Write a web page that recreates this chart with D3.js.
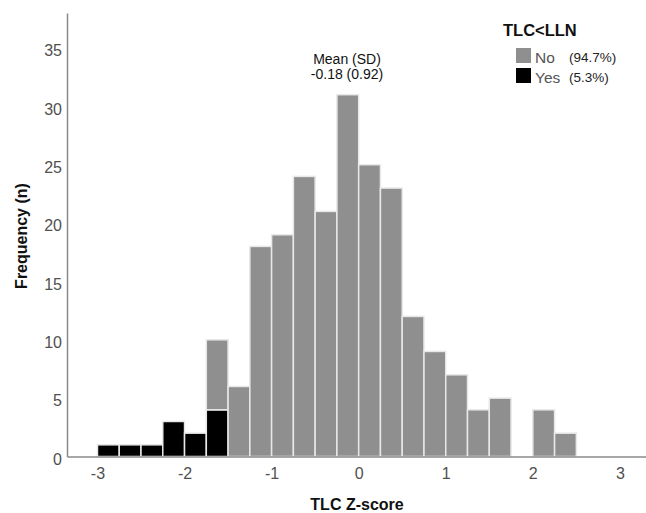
<!DOCTYPE html>
<html>
<head>
<meta charset="utf-8">
<script src="https://cdn.jsdelivr.net/npm/d3@7"></script>
<style>
  body { margin: 0; background: #fff; }
  text { font-family: "Liberation Sans", Arial, sans-serif; }
  .tick text { fill: #505050; font-size: 16px; }
  .axisTitle { font-weight: bold; font-size: 16px; fill: #111; }
</style>
</head>
<body>
<div id="chart"></div>
<script>
var svgWidth = 646;
var svgHeight = 513;

// Histogram bins (width 0.25), lower edges
var binStarts = [-3, -2.75, -2.5, -2.25, -2, -1.75, -1.5, -1.25, -1, -0.75, -0.5, -0.25,
                 0, 0.25, 0.5, 0.75, 1, 1.25, 1.5, 1.75, 2, 2.25];
var yesCounts = [1, 1, 1, 3, 2, 4, 0, 0, 0, 0, 0, 0, 0, 0, 0, 0, 0, 0, 0, 0, 0, 0];
var noCounts  = [0, 0, 0, 0, 0, 6, 6, 18, 19, 24, 21, 31, 25, 23, 12, 9, 7, 4, 5, 0, 4, 2];
var binWidth = 0.25;

var xTicks = [-3, -2, -1, 0, 1, 2, 3];
var yTicks = [0, 5, 10, 15, 20, 25, 30, 35];

var groups = ["Yes", "No"];
var groupColors = { "No": "#8f8f8f", "Yes": "#000000" };
var groupPct = { "No": "(94.7%)", "Yes": "(5.3%)" };

var svg = d3.select("#chart")
    .append("svg")
    .attr("width", svgWidth)
    .attr("height", svgHeight);

var x = d3.scaleLinear()
    .domain([-3.35, 3.3])
    .range([67, 646]);

var y = d3.scaleLinear()
    .domain([0, 38])
    .range([456.5, 13]);

// Build table for stacking
var table = binStarts.map(function(b, i) {
    return { x0: b, Yes: yesCounts[i], No: noCounts[i] };
});
var stacked = d3.stack().keys(groups)(table);

// Bars
svg.append("g")
    .selectAll("g")
    .data(stacked)
    .enter()
    .append("g")
    .attr("fill", d => groupColors[d.key])
    .selectAll("rect")
    .data(d => d.filter(s => s[1] > s[0]))
    .enter()
    .append("rect")
    .attr("x", d => x(d.data.x0))
    .attr("width", d => x(d.data.x0 + binWidth) - x(d.data.x0))
    .attr("y", d => y(d[1]))
    .attr("height", d => y(d[0]) - y(d[1]))
    .attr("stroke", "#e8e8e8")
    .attr("stroke-width", 1.5);

// Axes (plain hyphen for negatives, as in the original)
var bottomAxis = d3.axisBottom(x).tickValues(xTicks).tickFormat(d => String(d)).tickSize(0).tickPadding(11);
var leftAxis = d3.axisLeft(y).tickValues(yTicks).tickFormat(d => String(d)).tickSize(0).tickPadding(5);

var xAxisG = svg.append("g")
    .attr("transform", `translate(0, ${y(0)})`)
    .call(bottomAxis);
xAxisG.select(".domain").attr("stroke", "#8a8a8a").attr("stroke-width", 1.5);

var yAxisG = svg.append("g")
    .attr("transform", `translate(${x.range()[0]}, 0)`)
    .call(leftAxis);
yAxisG.select(".domain").attr("stroke", "#8a8a8a").attr("stroke-width", 1.5);
yAxisG.selectAll(".tick text").attr("dy", "0.48em");

svg.selectAll(".tick text").attr("font-family", null).attr("font-size", null);

// Axis titles
svg.append("text")
    .attr("class", "axisTitle")
    .attr("text-anchor", "middle")
    .attr("transform", "translate(27, 236) rotate(-90)")
    .text("Frequency (n)");

svg.append("text")
    .attr("class", "axisTitle")
    .attr("text-anchor", "middle")
    .attr("x", 357)
    .attr("y", 510)
    .text("TLC Z-score");

// Mean annotation
svg.append("text")
    .attr("text-anchor", "middle")
    .attr("x", 347)
    .attr("y", 64)
    .attr("font-size", 14)
    .attr("fill", "#111")
    .text("Mean (SD)");
svg.append("text")
    .attr("text-anchor", "middle")
    .attr("x", 347)
    .attr("y", 79)
    .attr("font-size", 14)
    .attr("fill", "#111")
    .text("-0.18 (0.92)");

// Legend
svg.append("text")
    .attr("x", 503)
    .attr("y", 36)
    .attr("font-size", 16.5)
    .attr("font-weight", "bold")
    .attr("fill", "#111")
    .text("TLC<LLN");

var legend = svg.append("g")
    .selectAll("g")
    .data(["No", "Yes"])
    .enter()
    .append("g")
    .attr("transform", (d, i) => `translate(516, ${48 + i * 20})`);

legend.append("rect")
    .attr("width", 15)
    .attr("height", 15)
    .attr("fill", d => groupColors[d]);

legend.append("text")
    .attr("x", 19)
    .attr("y", 15)
    .attr("font-size", 15.5)
    .attr("fill", "#555")
    .text(d => d);

legend.append("text")
    .attr("x", 53)
    .attr("y", 14)
    .attr("font-size", 13.5)
    .attr("fill", "#222")
    .text(d => groupPct[d]);
</script>
</body>
</html>
